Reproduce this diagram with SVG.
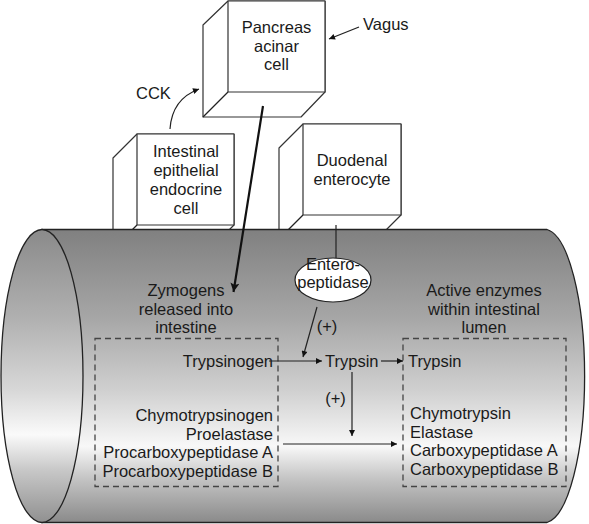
<svg xmlns="http://www.w3.org/2000/svg" width="589" height="524" viewBox="0 0 589 524">
<style>
text{font-family:"Liberation Sans",Arial,Helvetica,sans-serif;font-size:16.5px;fill:#1a1a1a}
.c{text-anchor:middle}
.e{text-anchor:end}
.box{fill:#fff;stroke:#333;stroke-width:1.2;stroke-linejoin:round}
.ln{fill:none;stroke:#222;stroke-width:1.2}
.dash{fill:none;stroke:#444;stroke-width:1.3;stroke-dasharray:6 4}
</style>
<defs>
<linearGradient id="gb" x1="0" y1="0" x2="0" y2="1">
<stop offset="0" stop-color="#808080"/>
<stop offset="0.3" stop-color="#a6a6a6"/>
<stop offset="0.55" stop-color="#d0d0d0"/>
<stop offset="0.74" stop-color="#f8f8f8"/>
<stop offset="0.85" stop-color="#c4c4c4"/>
<stop offset="1" stop-color="#8a8a8a"/>
</linearGradient>
<linearGradient id="ge" x1="0" y1="0" x2="0" y2="1">
<stop offset="0" stop-color="#8a8a8a"/>
<stop offset="0.3" stop-color="#b0b0b0"/>
<stop offset="0.55" stop-color="#d8d8d8"/>
<stop offset="0.7" stop-color="#fafafa"/>
<stop offset="0.82" stop-color="#c8c8c8"/>
<stop offset="1" stop-color="#909090"/>
</linearGradient>
<marker id="ah" viewBox="0 0 10 10" refX="10" refY="5" markerWidth="8" markerHeight="6" markerUnits="userSpaceOnUse" orient="auto">
<path d="M0,0 L10,5 L0,10 z" fill="#111"/>
</marker>
<marker id="ahb" viewBox="0 0 10 10" refX="10" refY="5" markerWidth="17" markerHeight="9" markerUnits="userSpaceOnUse" orient="auto">
<path d="M0,0 L10,5 L0,10 L2,5 z" fill="#111"/>
</marker>
</defs>

<g id="pancreas-acinar-cell">
<path class="box" d="M228,1 L203,25 L203,117 L301,117 L325,92 L325,1 Z"/>
<rect class="box" x="228" y="1" width="97" height="91"/>
<line class="ln" x1="228" y1="92" x2="203" y2="117"/>
<text class="c" x="276.5" y="33">Pancreas</text>
<text class="c" x="276.5" y="51.5">acinar</text>
<text class="c" x="276.5" y="70">cell</text>
</g>

<g id="intestinal-endocrine-cell">
<path class="box" d="M137,134 L113,158 L113,249 L210,249 L234,225 L234,134 Z"/>
<rect class="box" x="137" y="134" width="97" height="91"/>
<line class="ln" x1="137" y1="225" x2="113" y2="249"/>
<text class="c" x="186" y="157">Intestinal</text>
<text class="c" x="186" y="176">epithelial</text>
<text class="c" x="186" y="195">endocrine</text>
<text class="c" x="186" y="213.5">cell</text>
</g>

<g id="duodenal-enterocyte">
<path class="box" d="M303,124 L279,148 L279,239 L377,239 L401,215 L401,124 Z"/>
<rect class="box" x="303" y="124" width="98" height="91"/>
<line class="ln" x1="303" y1="215" x2="279" y2="239"/>
<text class="c" x="352" y="166">Duodenal</text>
<text class="c" x="352" y="184.5">enterocyte</text>
</g>

<g id="intestine">
<path d="M42,229.5 L547,229.5 A41,147 0 0 1 547,522.5 L42,522.5 Z" fill="url(#gb)" stroke="#222" stroke-width="1.3"/>
<ellipse cx="42" cy="376" rx="41" ry="146.5" fill="url(#ge)" stroke="#222" stroke-width="1.3"/>
<text class="c" x="186" y="296">Zymogens</text>
<text class="c" x="186" y="314.5">released into</text>
<text class="c" x="186" y="333">intestine</text>
<text class="c" x="484" y="296">Active enzymes</text>
<text class="c" x="484" y="314.5">within intestinal</text>
<text class="c" x="484" y="333">lumen</text>
</g>

<g id="zymogens-box">
<rect class="dash" x="95" y="338.5" width="183" height="148"/>
<text class="e" x="273" y="367">Trypsinogen</text>
<text class="e" x="273" y="421">Chymotrypsinogen</text>
<text class="e" x="273" y="439.5">Proelastase</text>
<text class="e" x="273" y="458">Procarboxypeptidase A</text>
<text class="e" x="273" y="476.5">Procarboxypeptidase B</text>
</g>

<g id="active-enzymes-box">
<rect class="dash" x="403" y="338.5" width="163" height="148"/>
<text x="408" y="367">Trypsin</text>
<text x="410" y="419">Chymotrypsin</text>
<text x="410" y="437.5">Elastase</text>
<text x="410" y="456">Carboxypeptidase A</text>
<text x="410" y="474.5">Carboxypeptidase B</text>
</g>

<g id="enteropeptidase">
<ellipse cx="333" cy="280" rx="38" ry="22" fill="#fff" stroke="#222" stroke-width="1.2"/>
<text class="c" x="333" y="270">Entero-</text>
<text class="c" x="333" y="287.5">peptidase</text>
</g>

<g id="trypsin-mid">
<text x="325" y="367">Trypsin</text>
</g>

<g id="labels">
<text x="363" y="30">Vagus</text>
<text x="136" y="99">CCK</text>
<text class="c" x="327" y="332">(+)</text>
<text class="c" x="335.5" y="404">(+)</text>
</g>

<g id="connectors">
<line class="ln" x1="359" y1="27" x2="329" y2="39" marker-end="url(#ah)"/>
<path class="ln" d="M170,129 Q172,99 199,89" marker-end="url(#ah)"/>
<line x1="263" y1="106" x2="233.5" y2="292" stroke="#111" stroke-width="2.2" marker-end="url(#ahb)"/>
<line class="ln" x1="336" y1="225" x2="336" y2="258"/>
<line class="ln" x1="317" y1="307" x2="303" y2="357" marker-end="url(#ah)"/>
<line class="ln" x1="269" y1="361" x2="322" y2="361" marker-end="url(#ah)"/>
<line class="ln" x1="381" y1="361" x2="403" y2="361" marker-end="url(#ah)"/>
<line class="ln" x1="352" y1="372" x2="352" y2="436" marker-end="url(#ah)"/>
<line class="ln" x1="283" y1="444" x2="397" y2="444" marker-end="url(#ah)"/>
</g>
</svg>
